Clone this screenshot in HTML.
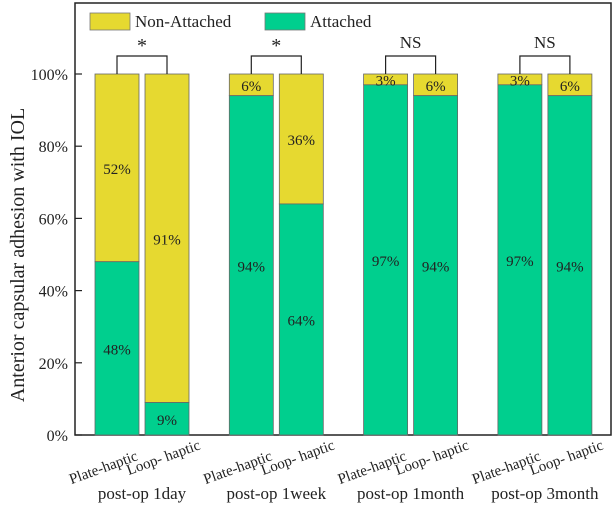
<!DOCTYPE html>
<html><head><meta charset="utf-8"><style>
body{margin:0;background:#fff;}
svg text{font-family:"Liberation Serif",serif;fill:#222;}
</style></head><body>
<svg id="c" width="613" height="511">
<rect x="75" y="3" width="536" height="432" fill="none" stroke="#222" stroke-width="1.5"/>
<g id="leg">
<rect x="90" y="13" width="40" height="17" fill="#e6d930" stroke="#777" stroke-width="0.8"/>
<text x="135" y="27" font-size="17">Non-Attached</text>
<rect x="265" y="13" width="40" height="17" fill="#00cf8e" stroke="#777" stroke-width="0.8"/>
<text x="310" y="27" font-size="17">Attached</text>
</g>
<text transform="translate(24,255) rotate(-90)" text-anchor="middle" font-size="20">Anterior capsular adhesion with IOL</text>
</svg>
<script>
const groups=["post-op 1day","post-op 1week","post-op 1month","post-op 3month"];
const barLabels=["Plate-haptic","Loop- haptic"];
const attached=[48,9,94,64,97,94,97,94];
const sig=["*","*","NS","NS"];
const yTicks=[0,20,40,60,80,100];
const svg=document.getElementById('c');
const NS='http://www.w3.org/2000/svg';
const y=v=>435-v*3.61;
const gx=g=>95+g*134.3;
function mk(t,a,txt){const e=document.createElementNS(NS,t);for(const k in a)e.setAttribute(k,a[k]);if(txt!==undefined)e.textContent=txt;svg.appendChild(e);return e;}
yTicks.forEach(t=>{
 const l=mk('line',{x1:75,x2:82,y1:y(t),y2:y(t),stroke:'#222','stroke-width':1.2});
 
 
 const tx=mk('text',{x:68,y:y(t)+6,'text-anchor':'end','font-size':16},t+'%');
 
 
});
attached.forEach((v,i)=>{
 const g=Math.floor(i/2),b=i%2,x=gx(g)+b*50,w=44;
 const na=100-v;
 const r1=mk('rect',{x:x,y:y(100),width:w,height:y(v)-y(100),fill:'#e6d930',stroke:'#666','stroke-width':0.8});
 
 
 const r2=mk('rect',{x:x,y:y(v),width:w,height:y(0)-y(v),fill:'#00cf8e',stroke:'#666','stroke-width':0.8});
 
 
 const t1=mk('text',{x:x+w/2,y:(y(100)+y(v))/2+6,'text-anchor':'middle','font-size':15},na+'%');
 
 
 const t2=mk('text',{x:x+w/2,y:(y(v)+y(0))/2+6,'text-anchor':'middle','font-size':15},v+'%');
 
 
 const lb=mk('text',{transform:`translate(${x+w/2+(b?-2:-12)},${b?462:472}) rotate(-20)`,'text-anchor':'middle','font-size':15},barLabels[b]);
 
 
});
groups.forEach((g,i)=>{
 const x=gx(i);
 const gl=mk('text',{x:x+47,y:499,'text-anchor':'middle','font-size':17},g);
 
 
 const br=mk('path',{d:`M${x+22},${y(100)} V56 H${x+72} V${y(100)}`,fill:'none',stroke:'#222','stroke-width':1.2});
 
 
 const s=mk('text',{x:x+47,y:sig[i]=='*'?52:48,'text-anchor':'middle','font-size':sig[i]=='*'?20:17},sig[i]);
 
 
});
</script>
</body></html>
